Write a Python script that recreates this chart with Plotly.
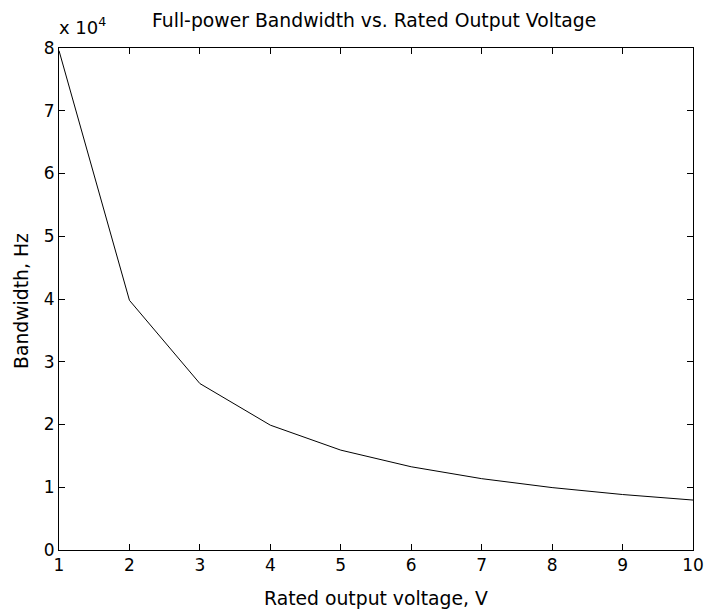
import plotly.graph_objects as go

voltage = [1, 2, 3, 4, 5, 6, 7, 8, 9, 10]
bandwidth = [79577, 39789, 26526, 19894, 15915, 13263, 11368, 9947, 8842, 7958]
x_ticks = [1, 2, 3, 4, 5, 6, 7, 8, 9, 10]
y_ticks = [0, 1, 2, 3, 4, 5, 6, 7, 8]

FONT = "DejaVu Sans, Liberation Sans, Arial, sans-serif"

L, R, T, B = 59, 693, 48, 550
W, H = R - L, B - T


def px(x):
    return (x - L) / W


def py(y):
    return (B - y) / H


fig = go.Figure()
fig.add_trace(go.Scatter(x=voltage, y=[b / 1e4 for b in bandwidth], mode="lines",
                         line=dict(color="black", width=1)))

fig.update_layout(
    width=705, height=612,
    paper_bgcolor="white", plot_bgcolor="white",
    margin=dict(l=L, r=705 - R, t=T, b=612 - B, autoexpand=False),
    showlegend=False,
    font=dict(family=FONT, size=17, color="black"),
)
axis_common = dict(showline=True, linecolor="black", linewidth=1, mirror="ticks",
                   ticks="inside", ticklen=6, tickcolor="black", showgrid=False, zeroline=False,
                   automargin=False)
fig.update_xaxes(range=[1, 10], tickvals=x_ticks, **axis_common)
fig.update_yaxes(range=[0, 8], tickvals=y_ticks, **axis_common)

fig.add_annotation(x=px(374), y=py(20), xref="paper", yref="paper",
                   text="Full-power Bandwidth vs. Rated Output Voltage",
                   showarrow=False, xanchor="center", yanchor="middle", font=dict(size=18.8))
fig.add_annotation(x=px(376), y=py(598), xref="paper", yref="paper", text="Rated output voltage, V",
                   showarrow=False, xanchor="center", yanchor="middle", font=dict(size=18.8))
fig.add_annotation(x=px(21), y=py(301), xref="paper", yref="paper", text="Bandwidth, Hz",
                   showarrow=False, xanchor="center", yanchor="middle", textangle=-90,
                   font=dict(size=18.8))
fig.add_annotation(x=px(57), y=py(40), xref="paper", yref="paper", xanchor="left", yanchor="bottom",
                   text="x 10<sup>4</sup>", showarrow=False, font=dict(size=18))
fig.write_html("out.html", post_script="document.body.style.margin='0';",
               config={"displayModeBar": False})
